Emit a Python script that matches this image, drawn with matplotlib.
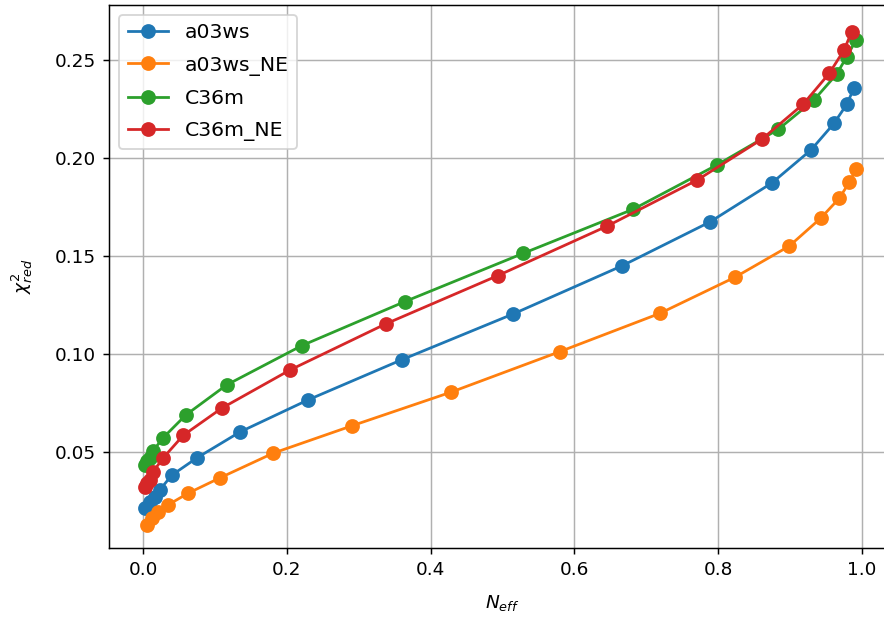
import matplotlib
matplotlib.use("Agg")
import matplotlib.pyplot as plt

# Effective-N sweep and reduced chi-square for each force field
neff_a03ws = [0.0024, 0.0093, 0.0163, 0.0232, 0.0395, 0.0747, 0.1346, 0.2296, 0.3596,
              0.5150, 0.6662, 0.7887, 0.8750, 0.9293, 0.9612, 0.9793, 0.9891]
chi_a03ws = [0.0214, 0.0246, 0.0272, 0.0306, 0.0380, 0.0469, 0.0601, 0.0765, 0.0969,
             0.1203, 0.1448, 0.1672, 0.1871, 0.2039, 0.2174, 0.2273, 0.2355]

neff_a03ws_ne = [0.0047, 0.0117, 0.0209, 0.0344, 0.0626, 0.1067, 0.1809, 0.2900, 0.4283,
                 0.5800, 0.7191, 0.8235, 0.8991, 0.9428, 0.9687, 0.9826, 0.9919]
chi_a03ws_ne = [0.0127, 0.0163, 0.0195, 0.0229, 0.0289, 0.0367, 0.0493, 0.0632, 0.0804,
                0.1011, 0.1206, 0.1390, 0.1549, 0.1691, 0.1793, 0.1874, 0.1940]

neff_c36m = [0.0024, 0.0058, 0.0093, 0.0139, 0.0278, 0.0594, 0.1161, 0.2205, 0.3642,
             0.5289, 0.6820, 0.7981, 0.8838, 0.9335, 0.9651, 0.9790, 0.9919]
chi_c36m = [0.0433, 0.0454, 0.0469, 0.0506, 0.0572, 0.0688, 0.0841, 0.1041, 0.1266,
            0.1512, 0.1737, 0.1962, 0.2144, 0.2294, 0.2426, 0.2514, 0.2599]

neff_c36m_ne = [0.0024, 0.0058, 0.0093, 0.0139, 0.0278, 0.0557, 0.1091, 0.2042, 0.3374,
                0.4933, 0.6458, 0.7711, 0.8607, 0.9186, 0.9548, 0.9752, 0.9860]
chi_c36m_ne = [0.0323, 0.0342, 0.0357, 0.0399, 0.0469, 0.0584, 0.0722, 0.0917, 0.1152,
               0.1398, 0.1651, 0.1886, 0.2093, 0.2273, 0.2430, 0.2548, 0.2642]

series = [
    ("a03ws", neff_a03ws, chi_a03ws),
    ("a03ws_NE", neff_a03ws_ne, chi_a03ws_ne),
    ("C36m", neff_c36m, chi_c36m),
    ("C36m_NE", neff_c36m_ne, chi_c36m_ne),
]

dpi = 133
fig = plt.figure(figsize=(884 / dpi, 619 / dpi), dpi=dpi)
ax = fig.add_axes([0.1236, 0.1152, 0.8895, 0.8767])

for name, x, y in series:
    ax.plot(x, y, marker="o", markersize=7, label=name)

ax.set_xlim(-0.0473, 1.047)
ax.set_ylim(0.0011, 0.2778)
ax.set_xticks([0.0, 0.2, 0.4, 0.6, 0.8, 1.0])
ax.set_yticks([0.05, 0.10, 0.15, 0.20, 0.25])
ax.grid(True)
ax.set_xlabel(r"$N_{eff}$", labelpad=8)
ax.set_ylabel(r"$\chi^2_{red}$", labelpad=11)
ax.legend(loc="upper left", fontsize=11, labelspacing=0.65)

fig.savefig("out.png", dpi=dpi)
